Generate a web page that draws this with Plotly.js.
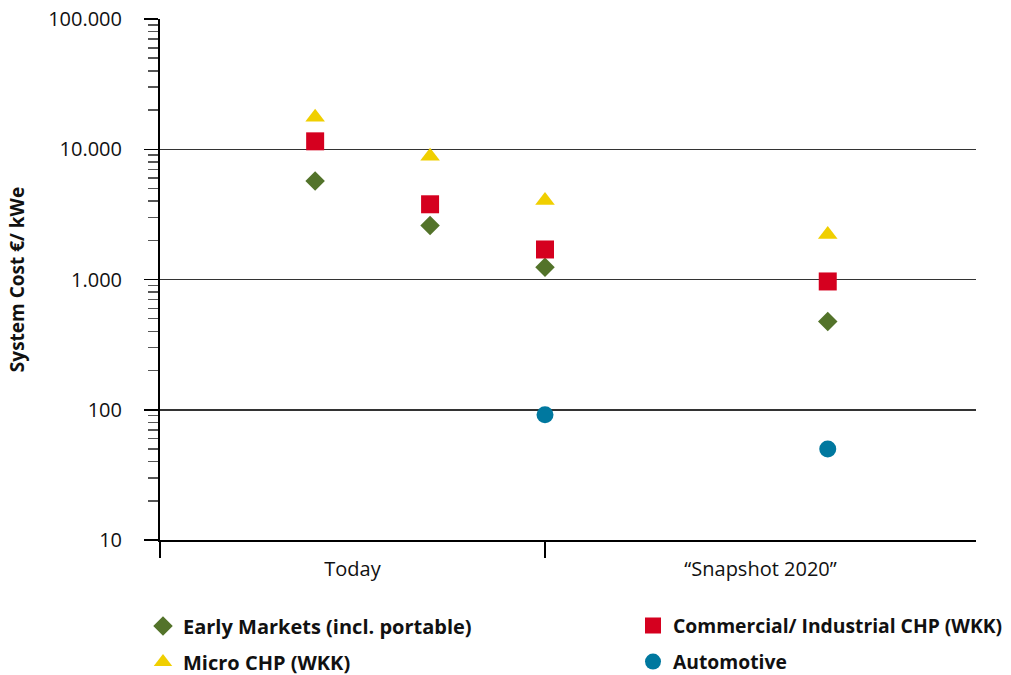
<!DOCTYPE html>
<html><head><meta charset="utf-8">
<script src="https://cdn.plot.ly/plotly-3.0.1.min.js"></script>
<style>html,body{margin:0;padding:0;background:#fff}</style>
</head><body><div id="chart" style="width:1011px;height:675px"></div>
<script>
// ---- data ----
const seriesNames = ['Early Markets (incl. portable)', 'Commercial/ Industrial CHP (WKK)', 'Micro CHP (WKK)', 'Automotive'];
const slots = [1, 2, 3, 5.46];            // position of each estimate along the time axis
const earlyMarkets = [5700, 2600, 1240, 475];
const commercialCHP = [11500, 3780, 1700, 966];
const microCHP = [17600, 8840, 4050, 2220];
const automotive = [null, null, 91.5, 50];
const groupLabels = ['Today', '\u201CSnapshot 2020\u201D'];
const groupBounds = [-0.35, 3, 6.75];     // Today | Snapshot 2020
const yTickVals = [10, 100, 1000, 10000, 100000];
const yTickText = ['10', '100', '1.000', '10.000', '100.000'];

// ---- styles ----
const font = '"Open Sans", "Noto Sans", sans-serif';
const colors = ['#53732a', '#d5001f', '#f0cf00', '#00789f'];
const symbols = ['diamond', 'square', 'triangle-up', 'circle'];
const sizes = [15, 18, 17, 17];
const legendIds = ['legend', 'legend2', 'legend3', 'legend4'];
const legendPos = [[143, 626], [633, 626], [143, 662], [633, 662]]; // px in the page
const legendFontSizes = [20, 19.3, 20, 19.3];
const values = [earlyMarkets, commercialCHP, microCHP, automotive];

const traces = seriesNames.map((n, i) => ({
  type: 'scatter', mode: 'markers', name: n, x: slots, y: values[i],
  marker: {symbol: symbols[i], color: colors[i], size: sizes[i], line: {width: 0}},
  legend: legendIds[i], cliponaxis: false, hoverinfo: 'skip'
}));

const minorVals = [];
for (let d = 10; d < 100000; d *= 10) for (let k = 2; k <= 9; k++) minorVals.push(d * k);

const mids = groupLabels.map((_, i) => (groupBounds[i] + groupBounds[i + 1]) / 2);

const layout = {
  width: 1011, height: 675,
  margin: {l: 160, r: 35, t: 19, b: 135},
  paper_bgcolor: '#fff', plot_bgcolor: '#fff',
  font: {family: font, size: 20, color: '#111'},
  showlegend: true,
  xaxis: {
    range: [groupBounds[0], groupBounds[2]],
    tickvals: mids, ticktext: groupLabels, ticks: '',
    ticklabelstandoff: 10,
    showgrid: false, zeroline: false,
    showline: true, linecolor: '#000', linewidth: 2,
    tickfont: {family: font, size: 20, color: '#111'}
  },
  yaxis: {
    type: 'log', range: [1, 5],
    tickvals: yTickVals, ticktext: yTickText,
    ticks: 'outside', ticklen: 14, tickwidth: 1.5, tickcolor: '#000',
    ticklabelstandoff: 18,
    showgrid: true, gridcolor: '#333', gridwidth: 1.5,
    showline: true, linecolor: '#000', linewidth: 2, zeroline: false,
    minor: {tickvals: minorVals, ticks: 'outside', ticklen: 10, tickwidth: 1.5, tickcolor: '#555', showgrid: false},
    tickfont: {family: font, size: 20, color: '#111'},
    title: {text: 'System Cost \u20AC/ kWe', font: {family: font, size: 19, color: '#111', weight: 'bold'}, standoff: 18}
  },
  shapes: [
    {type: 'line', xref: 'paper', yref: 'paper', x0: 0, x1: 0, y0: 0, y1: -18 / 521, line: {color: '#000', width: 2}},
    {type: 'line', xref: 'x', yref: 'paper', x0: groupBounds[1], x1: groupBounds[1], y0: 0, y1: -18 / 521, line: {color: '#000', width: 2}}
  ]
};

legendIds.forEach((id, i) => {
  layout[id] = {
    orientation: 'h', xref: 'container', yref: 'container', xanchor: 'left', yanchor: 'middle',
    x: legendPos[i][0] / 1011, y: 1 - legendPos[i][1] / 675,
    bgcolor: 'rgba(0,0,0,0)', borderwidth: 0,
    font: {family: font, size: legendFontSizes[i], color: '#111', weight: 'bold'}, itemclick: false
  };
});

Plotly.newPlot('chart', traces, layout, {staticPlot: true, displayModeBar: false});
</script></body></html>
